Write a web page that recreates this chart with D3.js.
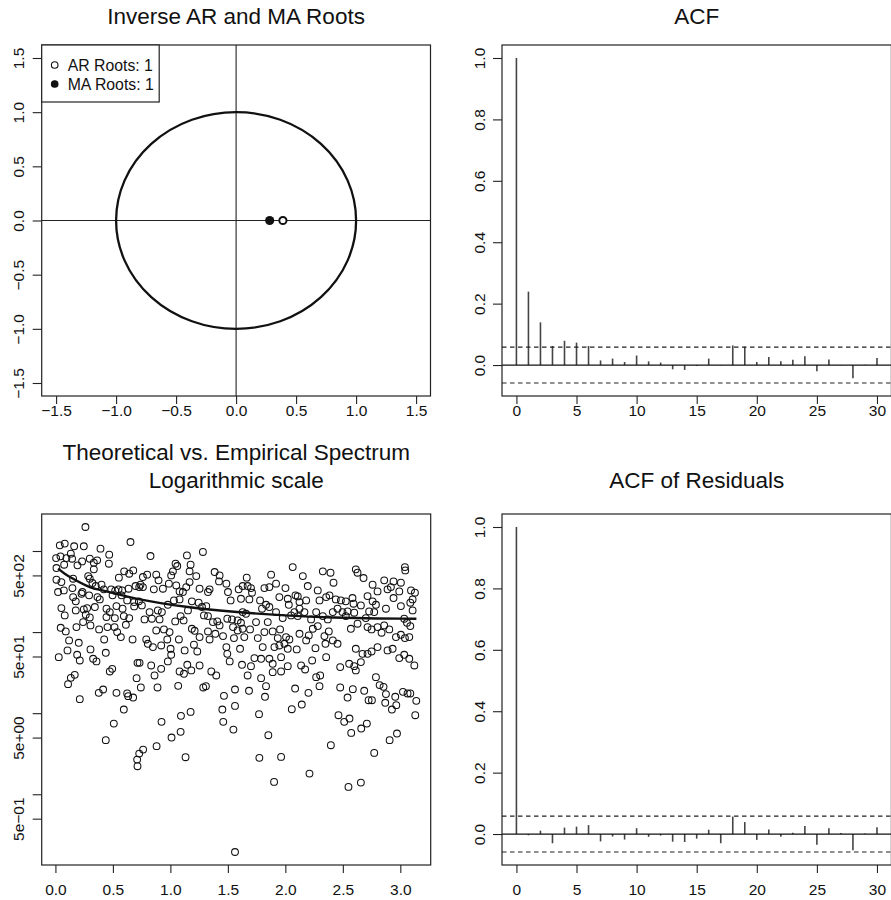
<!DOCTYPE html>
<html>
<head>
<meta charset="utf-8">
<script src="https://cdn.jsdelivr.net/npm/d3@7"></script>
<style>
  body { margin: 0; background: #fff; }
  svg { display: block; }
  text { font-family: "Liberation Sans", Arial, Helvetica, sans-serif; fill: #111; }
</style>
</head>
<body>
<svg id="chart" width="891" height="900"></svg>
<script>
// ---------- data ----------
// inverse roots of the fitted model (real, imaginary)
const arRoots = [[0.39, 0]];
const maRoots = [[0.28, 0]];
const rootAxisLimit = 1.5;
const rootTicks = [-1.5, -1.0, -0.5, 0, 0.5, 1.0, 1.5];
const rootTickLabels = ["\u22121.5", "\u22121.0", "\u22120.5", "0.0", "0.5", "1.0", "1.5"];

// autocorrelations of the series and of the residuals
const lags = [0,1,2,3,4,5,6,7,8,9,10,11,12,13,14,15,16,17,18,19,20,21,22,23,24,25,26,27,28,29,30];
const acfSeries = [1.0, 0.239, 0.139, 0.062, 0.079, 0.073, 0.062, 0.015, 0.021, 0.010, 0.031, 0.012, 0.008, -0.014, -0.016, -0.003, 0.021, -0.001, 0.064, 0.060, 0.010, 0.026, 0.012, 0.017, 0.029, -0.020, 0.018, -0.001, -0.043, 0.001, 0.023];
const acfResiduals = [1.0, -0.004, 0.011, -0.030, 0.021, 0.024, 0.029, -0.024, -0.008, -0.018, 0.019, -0.009, -0.005, -0.025, -0.026, -0.015, 0.014, -0.030, 0.057, 0.039, -0.019, 0.015, -0.009, 0.004, 0.026, -0.035, 0.019, 0.003, -0.053, 0.002, 0.022];
const confBound = 0.0585;
const lagTicks = [0, 5, 10, 15, 20, 25, 30];
const acfTicks = [0, 0.2, 0.4, 0.6, 0.8, 1.0];
const acfTickLabels = ["0.0", "0.2", "0.4", "0.6", "0.8", "1.0"];

// theoretical spectrum: [frequency, log10 spectral density]
const theoreticalSpectrum = [
  [0.023, 2.782], [0.081, 2.720], [0.154, 2.658], [0.299, 2.556], [0.444, 2.502],
  [0.735, 2.403], [1.153, 2.309], [1.580, 2.247], [2.000, 2.206], [2.420, 2.180],
  [2.800, 2.168], [3.140, 2.165]
];

// periodogram ordinates: [frequency, log10 periodogram]
const periodogram = [
  [0.261,3.296],[0.038,3.070],[0.081,3.091],[0.163,3.058],[0.247,3.058],[0.392,3.029],[0.653,3.111],
  [0.006,2.913],[0.044,2.934],[0.096,2.913],[0.134,2.967],[0.145,2.905],[0.076,2.831],[0.192,2.823],[0.232,2.872],[0.299,2.905],[0.334,2.856],[0.363,2.885],[0.468,2.955],[0.465,2.843],
  [0.009,2.790],[0.334,2.774],[0.598,2.749],[0.642,2.720],[0.677,2.761],[0.552,2.671],[0.154,2.658],[0.285,2.691],[0.299,2.658],
  [0.009,2.646],[0.052,2.617],[0.023,2.494],[0.073,2.514],[0.148,2.543],[0.235,2.494],[0.322,2.605],[0.351,2.568],[0.401,2.584],[0.421,2.527],[0.485,2.527],[0.520,2.510],[0.549,2.527],[0.581,2.514],[0.636,2.535],[0.697,2.568],
  [0.154,2.432],[0.227,2.473],[0.177,2.379],[0.293,2.453],[0.366,2.432],[0.386,2.403],[0.497,2.453],[0.575,2.453],[0.624,2.391],[0.685,2.370],
  [0.052,2.296],[0.081,2.206],[0.177,2.267],[0.247,2.280],[0.276,2.296],[0.264,2.214],[0.299,2.181],[0.343,2.309],[0.444,2.288],[0.473,2.247],[0.531,2.321],[0.584,2.288],[0.595,2.197],[0.642,2.173],[0.685,2.317],
  [0.444,2.185],[0.517,2.173],[0.613,2.090],[0.241,2.123],[0.183,2.062],[0.305,2.082],[0.380,2.033],[0.453,2.062],[0.514,2.062],[0.537,2.000],[0.569,1.938],[0.046,2.053],[0.090,2.008],[0.119,1.897],[0.203,1.868],[0.424,1.909],[0.671,1.909],
  [0.305,1.786],[0.105,1.774],[0.029,1.691],[0.189,1.720],[0.212,1.650],[0.328,1.671],[0.357,1.638],[0.438,1.745],[0.714,1.621],[0.473,1.514],[0.494,1.547],[0.168,1.473],[0.134,1.436],[0.729,2.555],[0.726,2.379],[0.706,1.432],
  [0.827,2.938],[1.144,2.946],[1.283,2.988],[1.045,2.843],[1.060,2.815],[1.176,2.831],[1.022,2.749],[1.007,2.699],[1.167,2.749],[1.225,2.691],[0.761,2.679],[0.798,2.708],[0.877,2.708],[0.740,2.584],[0.761,2.555],[0.897,2.638],[0.856,2.527],[0.935,2.535],[0.987,2.597],[1.051,2.576],[1.080,2.502],[1.109,2.494],[1.138,2.555],[1.167,2.617],[1.254,2.535],[1.327,2.494],[1.341,2.527],[1.385,2.741],[1.428,2.699],[1.423,2.625],[1.487,2.597],[1.501,2.494],[1.524,2.391],
  [0.752,2.329],[0.978,2.337],[1.031,2.391],[1.080,2.403],[1.187,2.379],[1.246,2.362],[1.275,2.309],[1.312,2.321],[1.292,2.206],[1.327,2.197],[1.370,2.123],[1.408,2.132],[1.428,2.082],[1.495,2.165],[1.536,2.156],[1.545,2.062],
  [0.819,2.247],[0.891,2.267],[0.926,2.247],[0.775,2.156],[0.839,2.165],[0.906,2.156],[1.042,2.132],[1.089,2.197],[1.115,2.144],[1.153,2.267],
  [0.877,2.020],[0.944,2.033],[0.993,2.000],[0.973,1.909],[0.790,1.909],[0.804,1.856],[0.848,1.815],[0.920,1.835],[1.002,1.794],[1.007,1.720],[1.074,1.909],[1.124,1.774],[1.187,2.041],[1.211,2.016],[1.205,1.844],[1.234,1.761],[1.254,1.938],[1.327,2.008],[1.341,1.909],[1.391,1.979],[1.458,1.951],[1.487,1.815],[1.495,1.732],[1.516,1.638],[1.553,1.926],
  [0.732,1.621],[0.833,1.588],[0.978,1.638],[0.920,1.547],[0.862,1.465],[1.080,1.514],[1.118,1.486],[1.147,1.597],[1.182,1.527],[1.254,1.588],[1.356,1.514],[1.399,1.465],
  [2.064,2.802],[2.326,2.749],[2.393,2.732],[1.876,2.708],[2.152,2.691],[1.664,2.671],[1.594,2.527],[1.629,2.568],[1.672,2.568],[1.701,2.543],[1.710,2.486],[1.614,2.411],[1.687,2.403],[1.780,2.391],[1.818,2.543],[1.861,2.555],[1.919,2.597],[2.001,2.543],[1.948,2.432],[2.021,2.411],[2.030,2.337],[2.088,2.453],[2.108,2.440],[2.123,2.370],[2.181,2.391],[2.195,2.568],[2.282,2.514],[2.297,2.391],[2.355,2.432],[2.384,2.453],[2.419,2.609],
  [1.797,2.288],[1.832,2.337],[1.861,2.309],[1.919,2.247],[1.629,2.247],[1.658,2.226],[1.585,2.144],[1.614,2.115],[1.745,2.123],[1.847,2.123],[1.977,2.173],[2.050,2.206],[2.079,2.247],[2.108,2.197],[2.123,2.288],[2.166,2.247],[2.224,2.156],[2.268,2.247],[2.326,2.197],[2.369,2.156],[2.413,2.247],
  [1.585,2.020],[1.629,2.041],[1.693,2.033],[1.643,1.938],[1.760,1.926],[1.818,2.000],[1.890,2.008],[1.954,2.033],[1.934,1.926],[2.006,1.938],[2.035,1.909],[2.123,1.979],[2.181,1.897],[2.204,1.959],[2.239,2.041],[2.282,2.074],[2.340,1.951],[2.378,2.008],[2.413,1.897],
  [1.606,1.794],[1.803,1.815],[1.905,1.815],[1.948,1.835],[1.992,1.856],[2.021,1.794],[2.099,1.786],[2.262,1.802],[2.349,1.856],[1.731,1.679],[1.789,1.671],[1.701,1.580],[1.623,1.597],[1.861,1.671],[1.890,1.609],[1.963,1.691],[2.021,1.580],[2.137,1.588],[2.172,1.539],[2.233,1.650],[2.268,1.444],[2.303,1.465],[2.355,1.691],[1.672,1.465],[1.789,1.432],[1.890,1.506],[1.963,1.514],
  [3.040,2.802],[3.043,2.761],[2.613,2.774],[2.628,2.732],[2.680,2.667],[2.860,2.638],[2.941,2.625],[3.005,2.609],[2.759,2.584],[2.802,2.502],[2.889,2.527],[2.918,2.555],[2.991,2.502],[3.093,2.514],[3.127,2.486],[3.107,2.403],[2.439,2.403],[2.483,2.391],[2.526,2.379],[2.584,2.420],[2.593,2.350],[2.657,2.329],[2.715,2.444],[2.759,2.379],[2.788,2.337],[2.875,2.288],[2.941,2.420],[3.005,2.321],[3.087,2.362],[3.107,2.267],
  [2.454,2.288],[2.497,2.247],[2.541,2.255],[2.526,2.197],[2.599,2.239],[2.729,2.255],[2.773,2.247],[2.700,2.173],[2.628,2.103],[2.570,2.041],[2.715,2.062],[2.750,2.033],[2.802,2.062],[2.837,1.992],[2.860,2.082],[2.904,2.033],[3.034,2.165],[3.058,2.115],[3.087,2.074],[2.962,1.938],[3.005,1.967],[3.040,1.926],[3.078,1.938],
  [2.454,1.856],[2.613,1.794],[2.671,1.732],[2.715,1.732],[2.750,1.761],[2.802,1.815],[2.889,1.774],[2.933,1.794],[2.991,1.679],[3.034,1.720],[3.078,1.671],[3.122,1.588],[2.555,1.609],[2.477,1.568],[2.599,1.580],[2.613,1.527],[2.657,1.630],[2.788,1.444],
  [0.110,1.358],[0.212,1.173],[0.377,1.251],[0.415,1.292],[0.531,1.251],[0.624,1.243],[0.633,1.210],[0.676,1.193],[0.743,1.317],[0.888,1.317],[1.068,1.337],[1.286,1.317],[1.309,1.333],[1.466,1.214],[1.452,1.045],[1.460,0.893],[0.595,1.045],[0.508,0.872],[0.438,0.667],[0.923,0.893],[1.092,0.967],[1.176,1.016],[1.010,0.700],[1.089,0.770],[0.880,0.593],[0.763,0.551],[0.729,0.502],[0.711,0.428],[0.714,0.346],[1.132,0.457],
  [1.562,1.292],[1.684,1.276],[1.562,1.090],[1.548,0.798],[1.771,0.988],[1.823,1.202],[1.832,1.333],[1.852,0.728],[1.774,0.449],[1.963,0.461],[1.902,0.152],[2.210,0.255],[2.085,1.304],[2.143,1.107],[2.056,1.049],[2.201,1.251],[2.297,1.333],[2.477,1.317],[2.396,0.605],[2.462,0.975],[2.512,0.893],[2.558,0.934],[2.541,1.193],[2.587,1.296],[2.573,0.757],[2.660,0.811],[2.709,0.872],[2.686,1.276],[2.724,1.160],[2.753,1.160],[2.773,0.510],[2.820,1.346],[2.854,1.325],[2.875,1.235],[2.869,1.128],[2.927,1.045],[2.956,1.202],[2.965,1.099],[2.907,0.667],[2.971,0.749],[3.023,1.263],[3.063,1.243],[3.087,1.243],[3.139,1.152],[3.130,0.975],[2.549,0.091],[2.657,0.144],[1.562,-0.712]
];
const freqTicks = [0, 0.5, 1.0, 1.5, 2.0, 2.5, 3.0];
const freqTickLabels = ["0.0", "0.5", "1.0", "1.5", "2.0", "2.5", "3.0"];
const spectrumTicks = [1000, 500, 100, 50, 10, 5, 1, 0.5];
const spectrumTickLabels = ["", "5e+02", "", "5e+01", "", "5e+00", "", "5e\u221201"];

// ---------- layout ----------
const panels = {
  roots:    { x0: 41.7, x1: 430.5, y0: 45,  y1: 396, labelGap: 20 },
  acf:      { x0: 502,  x1: 891.4, y0: 45,  y1: 396, labelGap: 20 },
  spectrum: { x0: 41.7, x1: 430.7, y0: 514, y1: 865, labelGap: 30 },
  resid:    { x0: 502,  x1: 891.4, y0: 514, y1: 865, labelGap: 30 }
};
const TICK_FONT = "15.5px";
const TITLE_FONT = "22.5px";
const INK = "#111";

const svg = d3.select("#chart");

function padRange(lo, hi) {
  const r = hi - lo;
  return [lo - 0.04 * r, hi + 0.04 * r];
}

function drawBox(p) {
  svg.append("rect")
    .attr("x", p.x0).attr("y", p.y0)
    .attr("width", p.x1 - p.x0).attr("height", p.y1 - p.y0)
    .attr("fill", "none").attr("stroke", "#222").attr("stroke-width", 1.2);
}

function drawXAxis(p, scale, ticks, labels) {
  const g = svg.append("g").attr("transform", `translate(0,${p.y1})`)
    .call(d3.axisBottom(scale).tickValues(ticks).tickSize(8)
      .tickFormat((d, i) => labels[i]));
  g.select(".domain").remove();
  g.selectAll(".tick line").attr("stroke", "#222").attr("stroke-width", 1.1);
  g.selectAll("text").attr("y", p.labelGap).attr("dy", 0)
    .style("font-size", TICK_FONT).attr("fill", INK);
}

function drawYAxis(p, scale, ticks, labels) {
  const g = svg.append("g").attr("transform", `translate(${p.x0},0)`)
    .call(d3.axisLeft(scale).tickValues(ticks).tickSize(9)
      .tickFormat((d, i) => labels[i]));
  g.select(".domain").remove();
  g.selectAll(".tick line").attr("stroke", "#222").attr("stroke-width", 1.1);
  g.selectAll("text")
    .attr("transform", "rotate(-90)")
    .attr("x", 0).attr("y", -17.5).attr("dy", 0)
    .attr("text-anchor", "middle")
    .style("font-size", TICK_FONT).attr("fill", INK);
}

function drawTitle(p, lines, baselines) {
  lines.forEach((t, i) => {
    svg.append("text")
      .attr("x", (p.x0 + p.x1) / 2).attr("y", baselines[i])
      .attr("text-anchor", "middle")
      .style("font-size", TITLE_FONT)
      .text(t);
  });
}

// ---------- panel 1: inverse roots on the unit circle ----------
(function () {
  const p = panels.roots;
  const lim = padRange(-rootAxisLimit, rootAxisLimit);
  const x = d3.scaleLinear().domain(lim).range([p.x0, p.x1]);
  const y = d3.scaleLinear().domain(lim).range([p.y1, p.y0]);

  // reference axes through the origin
  svg.append("line").attr("x1", p.x0).attr("x2", p.x1)
    .attr("y1", y(0)).attr("y2", y(0)).attr("stroke", "#222").attr("stroke-width", 1.1);
  svg.append("line").attr("x1", x(0)).attr("x2", x(0))
    .attr("y1", p.y0).attr("y2", p.y1).attr("stroke", "#222").attr("stroke-width", 1.1);

  // unit circle
  svg.append("ellipse")
    .attr("cx", x(0)).attr("cy", y(0))
    .attr("rx", x(1) - x(0)).attr("ry", y(0) - y(1))
    .attr("fill", "none").attr("stroke", INK).attr("stroke-width", 2.3);

  svg.selectAll(".ar").data(arRoots).join("circle")
    .attr("cx", d => x(d[0])).attr("cy", d => y(d[1])).attr("r", 3.6)
    .attr("fill", "#fff").attr("stroke", INK).attr("stroke-width", 2);
  svg.selectAll(".ma").data(maRoots).join("circle")
    .attr("cx", d => x(d[0])).attr("cy", d => y(d[1])).attr("r", 4.6)
    .attr("fill", INK);

  drawBox(p);

  // legend
  const lg = svg.append("g");
  lg.append("rect").attr("x", p.x0).attr("y", p.y0).attr("width", 117.5).attr("height", 57)
    .attr("fill", "#fff").attr("stroke", "#222").attr("stroke-width", 1.2);
  const entries = [
    { label: "AR Roots: " + arRoots.length, filled: false, cy: 65 },
    { label: "MA Roots: " + maRoots.length, filled: true, cy: 84 }
  ];
  entries.forEach(e => {
    lg.append("circle").attr("cx", p.x0 + 13).attr("cy", e.cy).attr("r", 3.3)
      .attr("fill", e.filled ? INK : "#fff").attr("stroke", INK).attr("stroke-width", 1.1);
    lg.append("text").attr("x", p.x0 + 26).attr("y", e.cy + 5.6)
      .style("font-size", "15.8px").text(e.label);
  });

  drawXAxis(p, x, rootTicks, rootTickLabels);
  drawYAxis(p, y, rootTicks, rootTickLabels);
  drawTitle(p, ["Inverse AR and MA Roots"], [24]);
})();

// ---------- correlogram panels ----------
function drawAcf(p, values, title, baselines) {
  const x = d3.scaleLinear().domain(padRange(lags[0], lags[lags.length - 1])).range([p.x0, p.x1]);
  const yLo = Math.min(-confBound, d3.min(values));
  const yHi = Math.max(confBound, d3.max(values));
  const y = d3.scaleLinear().domain(padRange(yLo, yHi)).range([p.y1, p.y0]);

  const g = svg.append("g");
  g.selectAll("line.spike").data(lags).join("line")
    .attr("class", "spike")
    .attr("x1", d => x(d)).attr("x2", d => x(d))
    .attr("y1", y(0)).attr("y2", (d, i) => y(values[i]))
    .attr("stroke", "#444").attr("stroke-width", 1.6);

  g.append("line").attr("x1", p.x0).attr("x2", p.x1)
    .attr("y1", y(0)).attr("y2", y(0)).attr("stroke", INK).attr("stroke-width", 1.3);
  [confBound, -confBound].forEach(c => {
    g.append("line").attr("x1", p.x0).attr("x2", p.x1)
      .attr("y1", y(c)).attr("y2", y(c))
      .attr("stroke", "#222").attr("stroke-width", 1.2)
      .attr("stroke-dasharray", "4.5,3.5");
  });

  drawBox(p);
  drawXAxis(p, x, lagTicks, lagTicks.map(String));
  drawYAxis(p, y, acfTicks, acfTickLabels);
  drawTitle(p, title, baselines);
}
drawAcf(panels.acf, acfSeries, ["ACF"], [24]);
drawAcf(panels.resid, acfResiduals, ["ACF of Residuals"], [488]);

// ---------- panel 3: periodogram vs theoretical spectrum ----------
(function () {
  const p = panels.spectrum;
  const fx = periodogram.map(d => d[0]);
  const ly = periodogram.map(d => d[1]);
  const x = d3.scaleLinear().domain(padRange(d3.min(fx), d3.max(fx))).range([p.x0, p.x1]);
  const logDom = padRange(d3.min(ly), d3.max(ly));
  const y = d3.scaleLog().domain([Math.pow(10, logDom[0]), Math.pow(10, logDom[1])])
    .range([p.y1, p.y0]);

  svg.append("g").selectAll("circle").data(periodogram).join("circle")
    .attr("cx", d => x(d[0])).attr("cy", d => y(Math.pow(10, d[1])))
    .attr("r", 3.4).attr("fill", "none").attr("stroke", INK).attr("stroke-width", 1.05);

  const line = d3.line()
    .x(d => x(d[0])).y(d => y(Math.pow(10, d[1])))
    .curve(d3.curveMonotoneX);
  svg.append("path").datum(theoreticalSpectrum)
    .attr("d", line).attr("fill", "none").attr("stroke", INK).attr("stroke-width", 2.4);

  drawBox(p);
  drawXAxis(p, x, freqTicks, freqTickLabels);
  drawYAxis(p, y, spectrumTicks, spectrumTickLabels);
  drawTitle(p, ["Theoretical vs. Empirical Spectrum", "Logarithmic scale"], [460, 488]);
})();
</script>
</body>
</html>
